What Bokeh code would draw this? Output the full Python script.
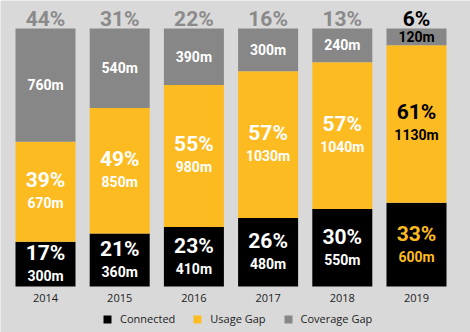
from bokeh.plotting import figure
from bokeh.models import ColumnDataSource, Range1d, Legend, LegendItem
from bokeh.core.properties import value
from bokeh.embed import file_html
from bokeh.resources import INLINE

# ---- data ----
years = ["2014", "2015", "2016", "2017", "2018", "2019"]
connected_m = [300, 360, 410, 480, 550, 600]
usage_m = [670, 850, 980, 1030, 1040, 1130]
coverage_m = [760, 540, 390, 300, 240, 120]
connected_pct = [17, 21, 23, 26, 30, 33]
usage_pct = [39, 49, 55, 57, 57, 61]
coverage_pct = [44, 31, 22, 16, 13, 6]

# ---- styles ----
BG = "#d9d9d9"
C_CON = "#000000"
C_USE = "#fdbb22"
C_COV = "#878787"
HIGHLIGHT = "2019"
COND = "Roboto"
PX_X = 74.2   # pixels per category
PX_Y = 258.0  # pixels per 100 %

xs = list(range(len(years)))
totals = [a + b + c for a, b, c in zip(connected_m, usage_m, coverage_m)]
con_s = [a / t for a, t in zip(connected_m, totals)]
use_s = [a / t for a, t in zip(usage_m, totals)]
cov_s = [a / t for a, t in zip(coverage_m, totals)]

src = ColumnDataSource(dict(x=xs, con=con_s, use=use_s, cov=cov_s))

x0 = -45 / PX_X
y0 = -46 / PX_Y
p = figure(width=470, height=332,
           x_range=Range1d(x0, x0 + 470 / PX_X),
           y_range=Range1d(y0, y0 + 332 / PX_Y),
           output_backend="svg", toolbar_location=None,
           min_border=0)
p.background_fill_color = BG
p.border_fill_color = BG
p.outline_line_color = None
p.xgrid.visible = False
p.ygrid.visible = False
p.xaxis.visible = False
p.yaxis.visible = False

rs = p.vbar_stack(["con", "use", "cov"], x="x", width=60 / PX_X, source=src,
                  color=[C_CON, C_USE, C_COV], line_color=None)

con_mid = [s / 2 for s in con_s]
use_mid = [c + u / 2 for c, u in zip(con_s, use_s)]
cov_mid = [c + u + g / 2 for c, u, g in zip(con_s, use_s, cov_s)]
tops = [c + u + g for c, u, g in zip(con_s, use_s, cov_s)]

hl = [y == HIGHLIGHT for y in years]
lab = ColumnDataSource(dict(
    x=xs, year=years, base=[0] * len(years),
    con_mid=con_mid, use_mid=use_mid, cov_mid=cov_mid, top=tops,
    con_pct=[f"{v}%" for v in connected_pct],
    use_pct=[f"{v}%" for v in usage_pct],
    cov_pct=[f"{v}%" for v in coverage_pct],
    con_m=[f"{v}m" for v in connected_m],
    use_m=[f"{v}m" for v in usage_m],
    cov_m=[f"{v}m" for v in coverage_m],
    con_col=[C_USE if h else "#ffffff" for h in hl],
    use_col=["#000000" if h else "#ffffff" for h in hl],
    cov_col=["#000000" if h else "#ffffff" for h in hl],
    top_col=["#000000" if h else "#8a8a8a" for h in hl],
))

common = dict(source=lab, text_align="center", text_baseline="middle",
              text_font=value(COND), text_font_style="bold")

p.text(x="x", y="con_mid", text="con_pct", text_color="con_col",
       y_offset=-11, text_font_size="21px", **common)
p.text(x="x", y="con_mid", text="con_m", text_color="con_col",
       y_offset=12, text_font_size="14px", **common)
p.text(x="x", y="use_mid", text="use_pct", text_color="use_col",
       y_offset=-12, text_font_size="21px", **common)
p.text(x="x", y="use_mid", text="use_m", text_color="use_col",
       y_offset=11, text_font_size="14px", **common)
p.text(x="x", y="cov_mid", text="cov_m", text_color="cov_col",
       text_font_size="14px", **common)
p.text(x="x", y="top", text="cov_pct", text_color="top_col",
       y_offset=-10, text_font_size="21px", **common)

# year labels under the bars
p.text(x="x", y="base", text="year", source=lab, text_align="center",
       text_baseline="middle", y_offset=11, text_font=value("Open Sans"),
       text_font_size="11px", text_color="#222222")

legend = Legend(items=[LegendItem(label="Connected", renderers=[rs[0]]),
                       LegendItem(label="Usage Gap", renderers=[rs[1]]),
                       LegendItem(label="Coverage Gap", renderers=[rs[2]])],
                orientation="horizontal", location=(102, 6))
legend.background_fill_alpha = 0
legend.border_line_color = None
legend.label_text_font = "Open Sans"
legend.label_text_font_size = "11px"
legend.label_text_color = "#222222"
legend.glyph_width = 10
legend.glyph_height = 10
legend.label_standoff = 8
legend.spacing = 17
legend.padding = 2
legend.margin = 0
p.add_layout(legend)

open("out.html", "w").write(file_html(p, INLINE))
